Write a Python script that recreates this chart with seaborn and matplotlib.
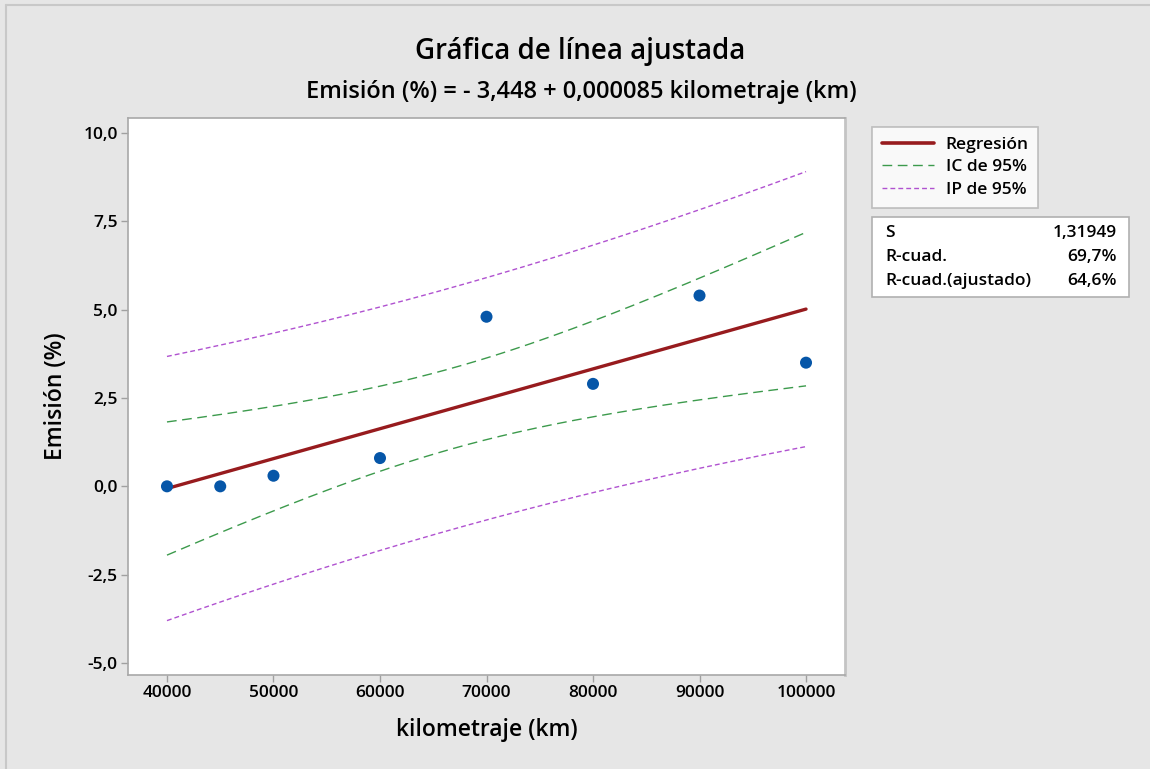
import numpy as np
import pandas as pd
import matplotlib
matplotlib.use('Agg')
import matplotlib.pyplot as plt
import seaborn as sns
from matplotlib.lines import Line2D
from matplotlib.patches import Rectangle
from matplotlib.ticker import FuncFormatter

kilometraje = [40000, 45000, 50000, 60000, 70000, 80000, 90000, 100000]
emision = [0.0, 0.0, 0.3, 0.8, 4.8, 2.9, 5.4, 3.5]
x_ticks = [40000, 50000, 60000, 70000, 80000, 90000, 100000]
y_ticks = [-5.0, -2.5, 0.0, 2.5, 5.0, 7.5, 10.0]
legend_labels = ['Regresión', 'IC de 95%', 'IP de 95%']
stats_labels = ['S', 'R-cuad.', 'R-cuad.(ajustado)']
stats_values = ['1,31949', '69,7%', '64,6%']
t_crit = 2.4469  # t(0.975, gl=6)

sns.set_theme(style='white')
plt.rcParams['font.family'] = ['Open Sans', 'DejaVu Sans']
plt.rcParams['font.weight'] = 'semibold'
plt.rcParams['axes.labelweight'] = 'semibold'
plt.rcParams['text.color'] = 'black'
plt.rcParams['axes.labelcolor'] = 'black'
plt.rcParams['xtick.color'] = 'black'
plt.rcParams['ytick.color'] = 'black'

df = pd.DataFrame({'km': kilometraje, 'em': emision})

# ajuste lineal y bandas de confianza / prediccion
b1, b0 = np.polyfit(df['km'], df['em'], 1)
n = len(df)
resid = df['em'] - (b0 + b1 * df['km'])
s = np.sqrt((resid ** 2).sum() / (n - 2))
xbar = df['km'].mean()
sxx = ((df['km'] - xbar) ** 2).sum()
xg = np.linspace(df['km'].min(), df['km'].max(), 200)
fit = b0 + b1 * xg
se_ci = s * np.sqrt(1 / n + (xg - xbar) ** 2 / sxx)
se_pi = s * np.sqrt(1 + 1 / n + (xg - xbar) ** 2 / sxx)
bands = pd.DataFrame({'x': xg, 'fit': fit,
                      'ci_lo': fit - t_crit * se_ci, 'ci_hi': fit + t_crit * se_ci,
                      'pi_lo': fit - t_crit * se_pi, 'pi_hi': fit + t_crit * se_pi})

red = '#971b1e'
green = '#3c9a4c'
purple = '#b052d0'
blue = '#0656a8'

fig = plt.figure(figsize=(11.5, 7.69), dpi=100, facecolor='#e6e6e6')
ax = fig.add_axes([128 / 1150, 1 - 675 / 769, 717 / 1150, 557 / 769])
ax.set_facecolor('white')

for col in ['pi_lo', 'pi_hi']:
    sns.lineplot(data=bands, x='x', y=col, ax=ax, color=purple, lw=1.0,
                 linestyle=(0, (3.5, 2.2)))
for col in ['ci_lo', 'ci_hi']:
    sns.lineplot(data=bands, x='x', y=col, ax=ax, color=green, lw=1.0,
                 linestyle=(0, (7, 4)))
sns.lineplot(data=bands, x='x', y='fit', ax=ax, color=red, lw=2.4)
sns.scatterplot(data=df, x='km', y='em', ax=ax, color=blue, s=75,
                edgecolor='none', zorder=5)

ax.set_xlim(36340, 103660)
ax.set_ylim(-5.34, 10.425)
ax.set_xticks(x_ticks)
ax.set_yticks(y_ticks)
ax.yaxis.set_major_formatter(FuncFormatter(lambda v, p: f'{v:.1f}'.replace('.', ',')))
ax.xaxis.set_major_formatter(FuncFormatter(lambda v, p: f'{int(v)}'))
ax.tick_params(axis='both', which='major', direction='out', length=5, width=1,
               color='#a0a0a0', labelsize=12.5, pad=2.5, bottom=True, left=True)
for sp in ax.spines.values():
    sp.set_color('#a8a8a8')
    sp.set_linewidth(1.2)
ax.spines['right'].set_linewidth(2)
ax.spines['right'].set_color('#c4c4c4')

ax.set_xlabel('kilometraje (km)', fontsize=16.5, labelpad=12)
ax.set_ylabel('Emisión (%)', fontsize=16.5, labelpad=11)

fig.text(580 / 1150, 1 - 52 / 769, 'Gráfica de línea ajustada', ha='center',
         va='center', fontsize=20)
fig.text(581 / 1150, 1 - 92 / 769, 'Emisión (%) = - 3,448 + 0,000085 kilometraje (km)',
         ha='center', va='center', fontsize=17)

# leyenda
handles = [Line2D([], [], color=red, lw=2.6),
           Line2D([], [], color=green, lw=1.0, linestyle=(0, (7, 4))),
           Line2D([], [], color=purple, lw=1.0, linestyle=(0, (3.5, 2.2)))]
leg = fig.legend(handles, legend_labels, loc='upper left',
                 bbox_to_anchor=(872 / 1150, 1 - 127 / 769), frameon=True,
                 fancybox=False, edgecolor='#b0b0b0', facecolor='white',
                 prop={'size': 12.5, 'weight': 'semibold'}, handlelength=3.0,
                 handletextpad=0.7, labelspacing=0.38, borderpad=0.55,
                 borderaxespad=0)
leg.get_frame().set_linewidth(1.2)

# tabla de estadisticas
fig.patches.append(Rectangle((872 / 1150, 1 - 297 / 769), 257 / 1150, 80 / 769,
                             transform=fig.transFigure, facecolor='white',
                             edgecolor='#b0b0b0', lw=1.2))
for i, (lab, val) in enumerate(zip(stats_labels, stats_values)):
    yy = 1 - (233 + i * 24) / 769
    fig.text(885 / 1150, yy, lab, ha='left', va='center', fontsize=12.5)
    fig.text(1117 / 1150, yy, val, ha='right', va='center', fontsize=12.5)

# borde exterior
fig.add_artist(Line2D([6 / 1150, 6 / 1150], [0, 1 - 5 / 769], color='#c8c8c8',
                      lw=1.5, transform=fig.transFigure))
fig.add_artist(Line2D([6 / 1150, 1], [1 - 5 / 769, 1 - 5 / 769], color='#c8c8c8',
                      lw=1.5, transform=fig.transFigure))

fig.savefig('out.png', dpi=100, facecolor=fig.get_facecolor())
